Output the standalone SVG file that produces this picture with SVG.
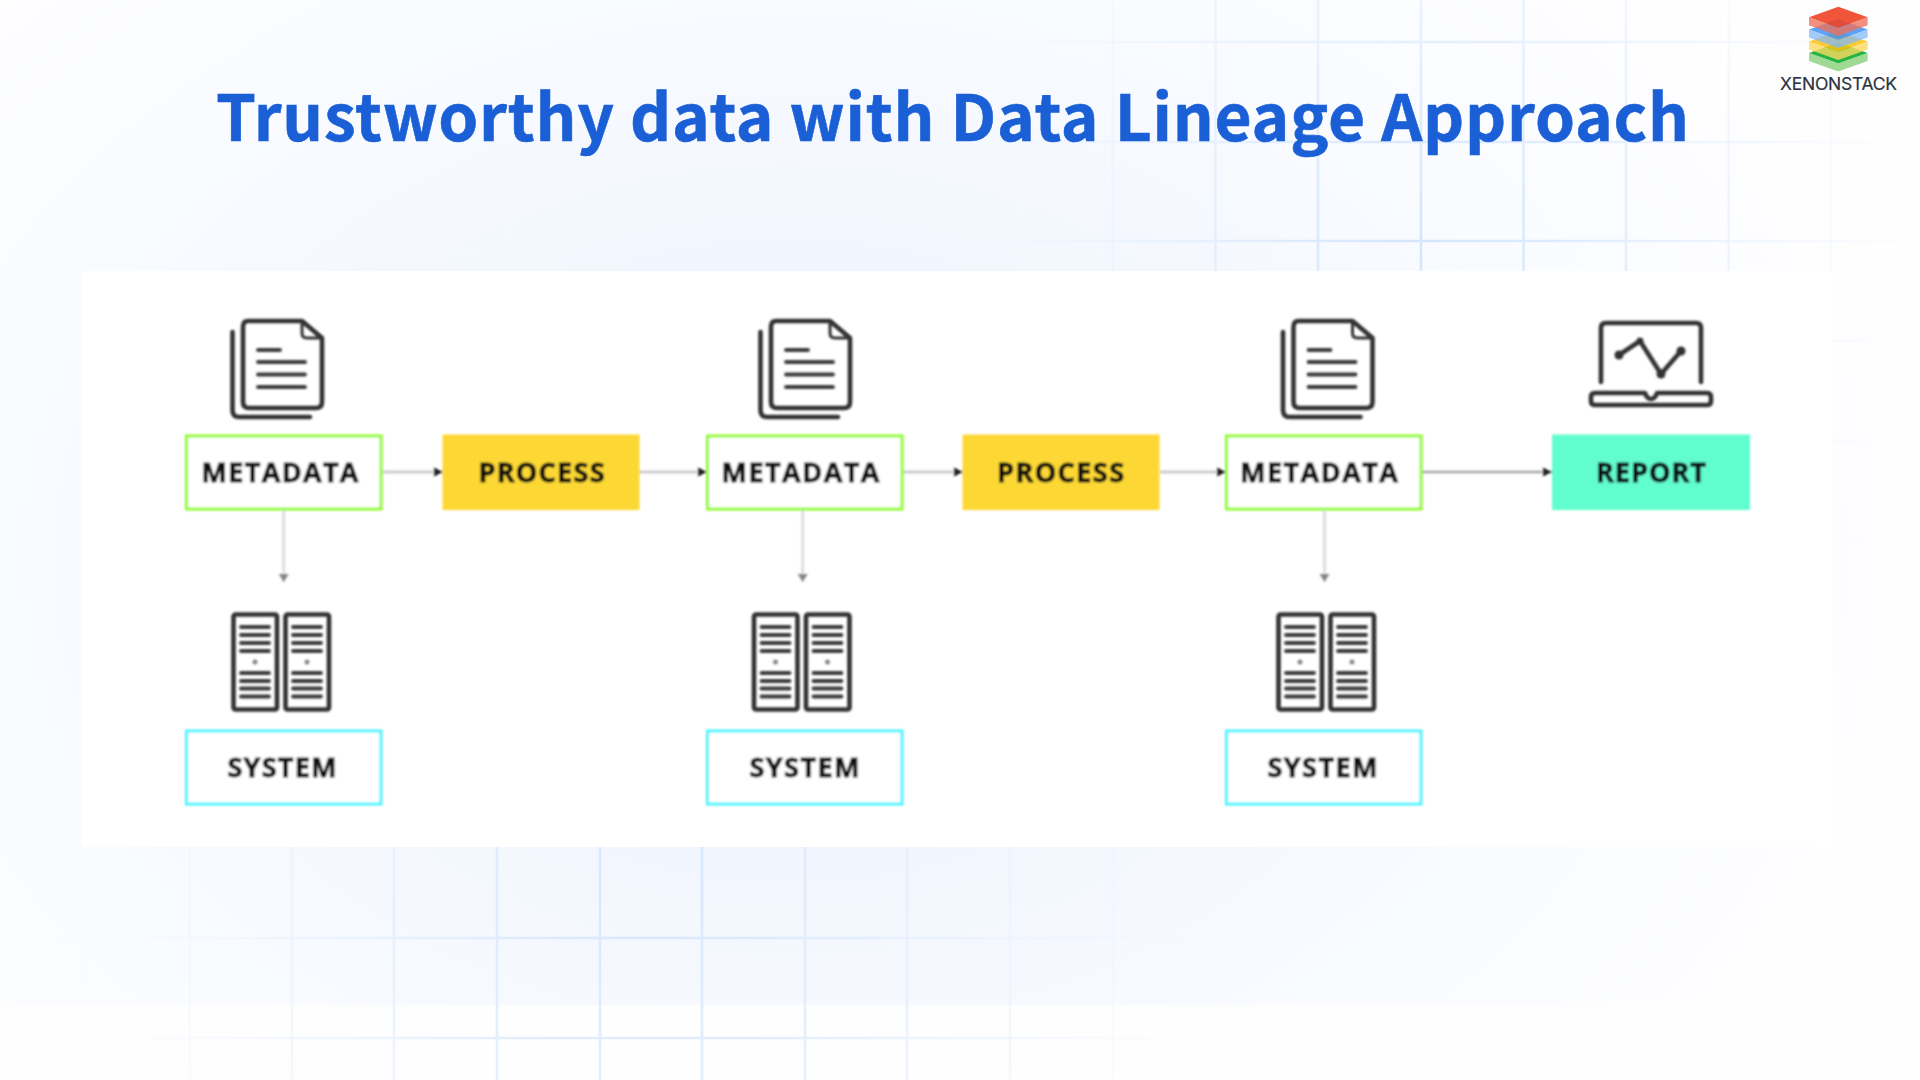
<svg xmlns="http://www.w3.org/2000/svg" width="1920" height="1080" viewBox="0 0 1920 1080">
<style>
.lbl{font-family:"Open Sans","Noto Sans","Liberation Sans",sans-serif;font-weight:700;font-size:27px;fill:#111;stroke:#111;stroke-width:.8;text-anchor:middle}
.meta{fill:#fff;stroke:#8ffb2e;stroke-width:3}
.sys{fill:#fff;stroke:#4df3ff;stroke-width:3}
.ic{fill:none;stroke:#333;stroke-width:4.600;stroke-linecap:round;stroke-linejoin:round}
.bar{stroke:#3a3a3a;stroke-width:3.800;stroke-linecap:round}
.h{stroke:#c2c2c2;stroke-width:2.400;fill:none;marker-end:url(#ah)}
.v{stroke:#dedede;stroke-width:3;fill:none;marker-end:url(#av)}
.vg{stroke-width:2.600;fill:none}
</style>
<defs>
<radialGradient id="bg" gradientUnits="userSpaceOnUse" cx="0" cy="0" r="1" gradientTransform="translate(790 560) scale(1130 830)">
<stop offset="0" stop-color="#ebf3fe"/><stop offset=".35" stop-color="#f1f6fe"/><stop offset=".7" stop-color="#f9fbff"/><stop offset="1" stop-color="#fefeff"/>
</radialGradient>
<radialGradient id="gt" gradientUnits="userSpaceOnUse" cx="1420" cy="260" r="560">
<stop offset="0" stop-color="#d4e5fc"/><stop offset=".4" stop-color="#e6f0fe"/><stop offset="1" stop-color="#f6faff" stop-opacity="0"/>
</radialGradient>
<radialGradient id="gb" gradientUnits="userSpaceOnUse" cx="650" cy="860" r="640">
<stop offset="0" stop-color="#d4e5fc"/><stop offset=".4" stop-color="#e6f0fe"/><stop offset="1" stop-color="#f6faff" stop-opacity="0"/>
</radialGradient>
<filter id="soft" x="-5%" y="-5%" width="110%" height="110%"><feGaussianBlur stdDeviation="0.9"/></filter>
<marker id="ah" markerUnits="userSpaceOnUse" markerWidth="11" markerHeight="11" refX="10" refY="5.500" orient="auto"><path d="M1 1L10 5.500L1 10Z" fill="#1c1c1c"/></marker>
<marker id="av" markerUnits="userSpaceOnUse" markerWidth="11" markerHeight="11" refX="9" refY="5.500" orient="auto"><path d="M1 0.500L9 5.500L1 10.500Z" fill="#858585"/></marker>
<g id="doc">
<path class="ic" d="M248 321H302L322 338V402Q322 408 316 408H249Q243 408 243 402V327Q243 321 248 321Z"/>
<path class="ic" d="M302 322V333Q302 338 307 338H321" style="stroke-width:3"/>
<path class="ic" d="M232.500 332V410Q232.500 417 239 417H310"/>
<path class="bar" d="M258 350H280M258 362H305M258 374.500H305M258 387H305"/>
</g>
<g id="rack">
<rect class="ic" x="233.500" y="614.500" width="43.500" height="95" rx="2"/>
<path class="bar" d="M241 627H269M241 635H269M241 643H269M241 651H269M241 673H269M241 681H269M241 688.500H269M241 696.500H269"/>
<circle cx="255" cy="662" r="2.500" fill="#888"/>
</g>
<g id="srv"><use href="#rack"/><use href="#rack" x="52"/></g>
<path id="dia" d="M0 -10.600L29.300 0L0 10.600L-29.300 0Z"/>
<path id="band" d="M-29.300 0L0 10.600L29.300 0V8L0 18.600L-29.300 8Z"/>
</defs>

<rect width="1920" height="1080" fill="#fefefe"/>
<rect width="1920" height="1005" fill="url(#bg)"/>

<g id="grid-top" class="vg" stroke="url(#gt)">
<path d="M0 42H1920M0 142H1920M0 241H1920M1832 341H1920M1832 441H1920M1832 540H1920M1832 640H1920M1832 739H1920"/>
<path d="M1112.700 0V271M1215.500 0V271M1318 0V271M1421 0V271M1523.500 0V271M1626 0V271M1728.700 0V271M1831 0V271"/>
</g>
<g id="grid-bottom" class="vg" stroke="url(#gb)">
<path d="M0 938H1920M0 1038H1920"/>
<path d="M85.500 847V1080M189.500 847V1080M292 847V1080M394 847V1080M497 847V1080M600 847V1080M702 847V1080M805 847V1080M907 847V1080M1010 847V1080M1112.700 847V1080M1215.500 847V1080"/>
</g>

<rect id="panel" x="82" y="271" width="1750" height="576" fill="#fff"/>

<text id="title" x="216" y="141" font-family="'Noto Sans CJK SC','Noto Sans',sans-serif" font-weight="700" font-size="64" fill="#1a5fd6" stroke="#1a5fd6" stroke-width=".6" textLength="1473">Trustworthy data with Data Lineage Approach</text>

<g id="logo">
<g transform="translate(1838.300 53)" fill="#25b545"><use href="#dia"/><use href="#band" fill="#88d078" fill-opacity=".8"/></g>
<g transform="translate(1838.300 41.500)" fill="#fbc40f" fill-opacity=".85"><use href="#dia"/><use href="#band" fill="#fcd95f" fill-opacity=".8"/></g>
<g transform="translate(1838.300 29.500)" fill="#3f92f7" fill-opacity=".85"><use href="#dia"/><use href="#band" fill="#83b8fa" fill-opacity=".75"/></g>
<g transform="translate(1838.300 17.300)" fill="#ee4223" fill-opacity=".9"><use href="#dia"/><use href="#band" fill="#ef6f58" fill-opacity=".78"/></g>
<text x="1838.500" y="90" font-family="Inter,'Liberation Sans',sans-serif" font-size="17.500" fill="#2b3341" stroke="#2b3341" stroke-width=".2" text-anchor="middle" textLength="117">XENONSTACK</text>
</g>

<g filter="url(#soft)">
<g id="connectors">
<path class="h" d="M382 472H443"/>
<path class="h" d="M639 472H707"/>
<path class="h" d="M903 472H963"/>
<path class="h" d="M1160 472H1226"/>
<path class="h" style="stroke:#a5a5a5" d="M1422 472H1552"/>
<path class="v" d="M283.700 510V582"/>
<path class="v" d="M802.700 510V582"/>
<path class="v" d="M1324.500 510V582"/>
</g>
<g id="metadata-1"><use href="#doc"/><rect class="meta" x="186.500" y="436" width="194.500" height="73"/><text class="lbl" x="280" y="482" textLength="157">METADATA</text></g>
<g id="process-1"><rect x="442.500" y="434.500" width="197" height="75.500" fill="#fdd835"/><text class="lbl" x="541.500" y="482" textLength="126">PROCESS</text></g>
<g id="metadata-2"><use href="#doc" x="528"/><rect class="meta" x="707.500" y="436" width="194.500" height="73"/><text class="lbl" x="800.500" y="482" textLength="158">METADATA</text></g>
<g id="process-2"><rect x="962.500" y="434.500" width="197" height="75.500" fill="#fdd835"/><text class="lbl" x="1060.500" y="482" textLength="127">PROCESS</text></g>
<g id="metadata-3"><use href="#doc" x="1050.500"/><rect class="meta" x="1226.500" y="436" width="194.500" height="73"/><text class="lbl" x="1319" y="482" textLength="158">METADATA</text></g>
<g id="report">
<path class="ic" d="M1601 382V328Q1601 323 1606 323H1696Q1701 323 1701 328V382"/>
<path class="ic" d="M1595 393H1645Q1647 399 1651 399Q1655 399 1657 393H1707Q1711 393 1711 397V401Q1711 405 1707 405H1595Q1591 405 1591 401V397Q1591 393 1595 393Z"/>
<path class="ic" d="M1619 355L1640 341L1661 374L1681 351"/>
<circle cx="1619" cy="355" r="4.500" fill="#333"/><circle cx="1640" cy="341" r="3.500" fill="#333"/><circle cx="1661" cy="374" r="4.500" fill="#333"/><circle cx="1681" cy="351" r="4.500" fill="#333"/>
<rect x="1552" y="434.500" width="198" height="75.500" fill="#62fdcf"/>
<text class="lbl" x="1651" y="482" textLength="110">REPORT</text>
</g>
<g id="system-1"><use href="#srv"/><rect class="sys" x="186.500" y="731" width="194.500" height="73"/><text class="lbl" x="282" y="777" textLength="109">SYSTEM</text></g>
<g id="system-2"><use href="#srv" x="520.500"/><rect class="sys" x="707.500" y="731" width="194.500" height="73"/><text class="lbl" x="804.500" y="777" textLength="110">SYSTEM</text></g>
<g id="system-3"><use href="#srv" x="1045"/><rect class="sys" x="1226.500" y="731" width="194.500" height="73"/><text class="lbl" x="1322.500" y="777" textLength="110">SYSTEM</text></g>
</g>
</svg>
